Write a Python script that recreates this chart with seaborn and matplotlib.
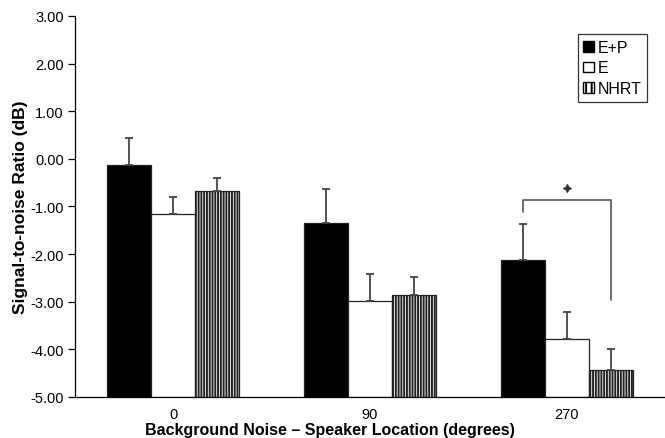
import matplotlib
matplotlib.use("Agg")
import matplotlib.pyplot as plt
from matplotlib.patches import Patch
import seaborn as sns
import pandas as pd
import numpy as np

# Mean signal-to-noise ratio (dB) and upper error bars per condition
locations = ["0", "90", "270"]
conditions = ["E+P", "E", "NHRT"]
snr_ep = [-0.12, -1.34, -2.12]
snr_e = [-1.15, -2.98, -3.79]
snr_nhrt = [-0.68, -2.85, -4.43]
err_ep = [0.56, 0.71, 0.76]
err_e = [0.35, 0.56, 0.58]
err_nhrt = [0.28, 0.36, 0.43]

sns.set_style("white")
plt.rcParams["font.family"] = ["Liberation Sans", "DejaVu Sans"]
plt.rcParams["axes.unicode_minus"] = False
plt.rcParams["hatch.linewidth"] = 1.4
plt.rcParams["hatch.color"] = "black"
plt.rcParams["text.color"] = "black"
plt.rcParams["axes.labelcolor"] = "black"
plt.rcParams["xtick.color"] = "black"
plt.rcParams["ytick.color"] = "black"

rows = []
for cond, vals, errs in [("E+P", snr_ep, err_ep), ("E", snr_e, err_e), ("NHRT", snr_nhrt, err_nhrt)]:
    for loc, v, e in zip(locations, vals, errs):
        rows.append({"location": loc, "condition": cond, "snr": v, "err": e})
df = pd.DataFrame(rows)

fig = plt.figure(figsize=(6.65, 4.39), dpi=100)
ax = fig.add_axes([0.1128, 0.0934, 0.8872, 0.8679])

palette = {"E+P": "black", "E": "white", "NHRT": "white"}
sns.barplot(data=df, x="location", y="snr", hue="condition", order=locations,
            hue_order=conditions, palette=palette, width=0.67, gap=0,
            edgecolor="#222222", linewidth=0.9, errorbar=None, legend=False,
            ax=ax)

# bars hang from the bottom of the axis (-5 dB)
base = -5.0
for p in ax.patches:
    h = p.get_height()
    p.set_y(base)
    p.set_height(h - base)

# hatch the NHRT bars
n = len(locations)
for i, p in enumerate(ax.patches):
    if conditions[i // n] == "NHRT":
        p.set_hatch("||||||")
        p.set_edgecolor("#222222")

# one-sided error bars
for i, p in enumerate(ax.patches):
    cond = conditions[i // n]
    loc = locations[i % n]
    r = df[(df.condition == cond) & (df.location == loc)].iloc[0]
    xc = p.get_x() + p.get_width() / 2
    ax.errorbar(xc, r.snr, yerr=[[0], [r.err]], fmt="none", ecolor="#444444",
                elinewidth=1.3, capsize=3, capthick=1.3, zorder=3)

ax.set_ylim(-5, 3)
ax.set_xlim(-0.5, 2.5)
ax.set_yticks(np.arange(-5, 3.01, 1))
ax.set_yticklabels([f"{v:.2f}" for v in np.arange(-5, 3.01, 1)], fontsize=10.5)
ax.set_xticks(range(n))
ax.set_xticklabels(locations, fontsize=10.5)
ax.set_xticks([-0.5, 0.5, 1.5], minor=True)
ax.tick_params(axis="x", which="major", length=0, pad=7)
ax.tick_params(axis="x", which="minor", length=5, width=0.9, direction="out", color="black")
ax.tick_params(axis="y", length=5, width=0.9, direction="out", color="black", pad=3, left=True)

for s in ["top", "right"]:
    ax.spines[s].set_visible(False)
for s in ["left", "bottom"]:
    ax.spines[s].set_color("black")
    ax.spines[s].set_linewidth(0.9)

ax.set_ylabel("Signal-to-noise Ratio (dB)", fontsize=12.5, fontweight="bold", labelpad=2)
ax.set_xlabel("Background Noise \u2013 Speaker Location (degrees)", fontsize=11.5,
              fontweight="bold", labelpad=1)
ax.xaxis.set_label_coords(0.432, -0.066)

# significance bracket between E+P and NHRT at 270 degrees
p_ep = ax.patches[2]
p_nh = ax.patches[2 * n + 2]
x1 = p_ep.get_x() + p_ep.get_width() / 2
x2 = p_nh.get_x() + p_nh.get_width() / 2
ax.plot([x1, x1, x2, x2], [-1.11, -0.87, -0.87, -2.96], color="#555555", lw=1.2)
ax.plot([(x1 + x2) / 2], [-0.61], marker=(4, 1, 0), color="#333333", ms=6, mew=0.6)

handles = [Patch(facecolor="black", edgecolor="black", label="E+P"),
           Patch(facecolor="white", edgecolor="black", label="E"),
           Patch(facecolor="white", edgecolor="black", hatch="|||", label="NHRT")]
leg = ax.legend(handles=handles, loc="upper right", bbox_to_anchor=(0.97, 0.952),
                fontsize=11.5, frameon=True, fancybox=False, edgecolor="black",
                handlelength=0.65, handleheight=0.65, handletextpad=0.25,
                labelspacing=0.35, borderpad=0.35, borderaxespad=0)
leg.get_frame().set_linewidth(0.9)

fig.savefig("out.png", dpi=100)
